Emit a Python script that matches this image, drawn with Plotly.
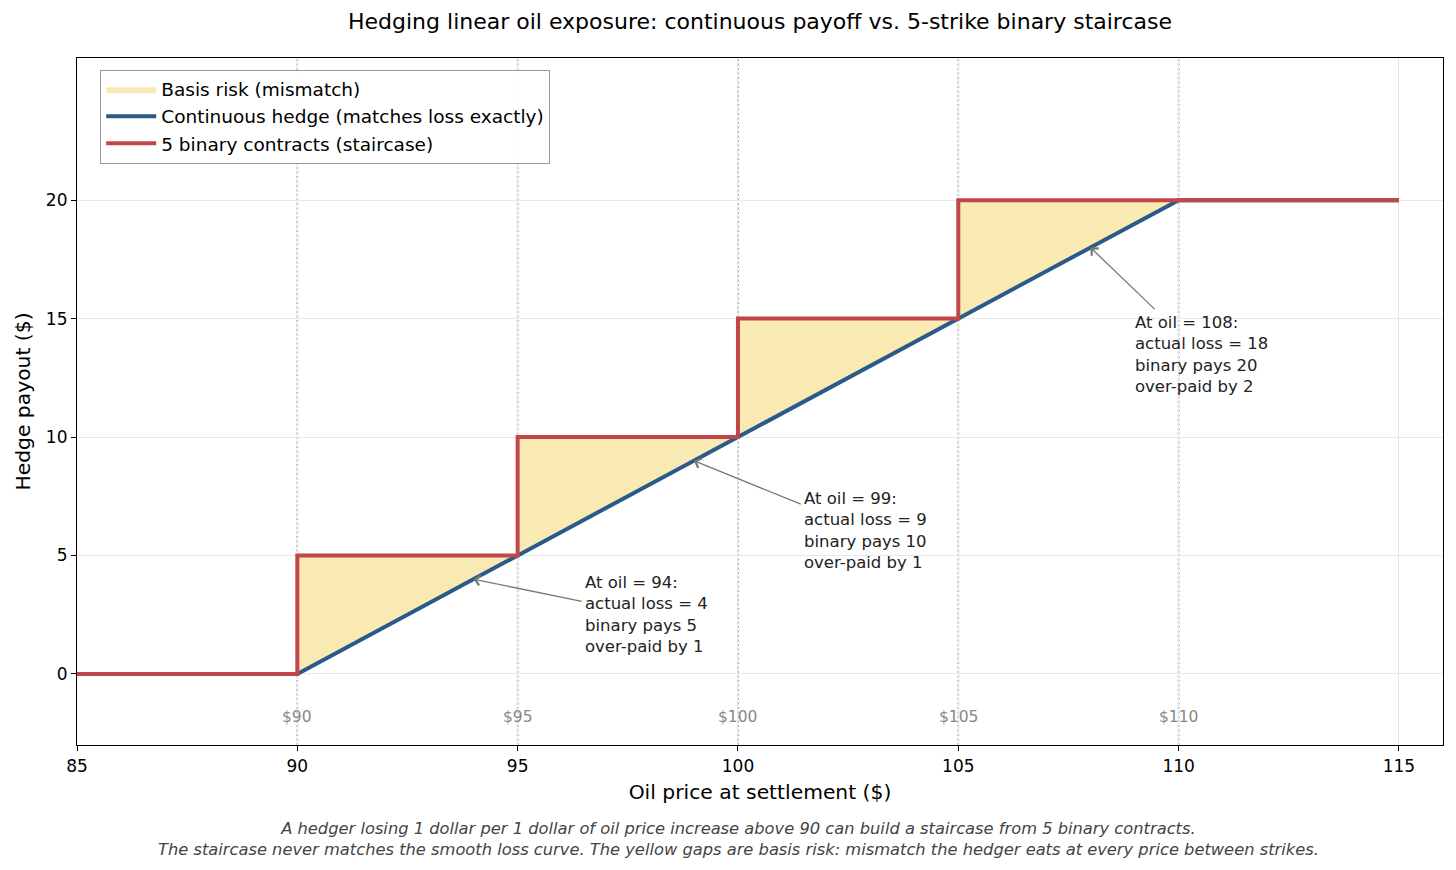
import plotly.graph_objects as go

# ---- data ----
strikes = [90, 95, 100, 105, 110]
strike_labels = ["$90", "$95", "$100", "$105", "$110"]
cont_x = [85, 90, 110, 115]
cont_y = [0, 0, 20, 20]
stair_x = [85, 90, 90, 95, 95, 100, 100, 105, 105, 115]
stair_y = [0, 0, 5, 5, 10, 10, 15, 15, 20, 20]
ann_price = [94, 99, 108]
ann_loss = [4, 9, 18]
ann_pay = [5, 10, 20]

# layout: text-box centres (data units) for the three call-outs
ann_box_x = [97.93, 102.90, 110.52]
ann_box_y = [2.5, 6.05, 13.5]

RED = "#c0464a"
BLUE = "#2a5a8a"
FILL = "rgba(246,222,140,0.65)"
FONT = "DejaVu Sans"

fig = go.Figure()

fig.add_trace(go.Scatter(x=cont_x, y=cont_y, mode="lines", line=dict(width=0),
                         showlegend=False, hoverinfo="skip"))
fig.add_trace(go.Scatter(x=stair_x, y=stair_y, mode="lines", line=dict(width=0),
                         fill="tonexty", fillcolor=FILL,
                         name="Basis risk (mismatch)"))
fig.add_trace(go.Scatter(x=cont_x, y=cont_y, mode="lines",
                         line=dict(color=BLUE, width=4),
                         name="Continuous hedge (matches loss exactly)"))
fig.add_trace(go.Scatter(x=stair_x, y=stair_y, mode="lines",
                         line=dict(color=RED, width=4),
                         name="5 binary contracts (staircase)"))

shapes = []
annotations = []
for s, lab in zip(strikes, strike_labels):
    shapes.append(dict(type="line", xref="x", yref="paper", x0=s, x1=s, y0=0, y1=1,
                       line=dict(color="#a0a0a0", width=1.8, dash="2px,2.5px"), layer="between"))
    annotations.append(dict(x=s, y=-1.8, xref="x", yref="y", text=lab, showarrow=False,
                            font=dict(family=FONT, size=15.5, color="#888888")))

for px, loss, pay, bx, by in zip(ann_price, ann_loss, ann_pay, ann_box_x, ann_box_y):
    txt = (f"At oil = {px}:<br>actual loss = {loss}<br>binary pays {pay}"
           f"<br>over-paid by {pay - loss}")
    annotations.append(dict(x=px, y=loss, xref="x", yref="y", ax=bx, ay=by,
                            axref="x", ayref="y", text=txt, showarrow=True,
                            arrowhead=4, arrowsize=1.5, arrowwidth=1.3,
                            arrowcolor="#777777", borderpad=3,
                            xanchor="center", yanchor="middle", align="left",
                            font=dict(family=FONT, size=16.5, color="#222222")))

annotations.append(dict(
    xref="paper", yref="paper", x=(738 - 77) / 1366, y=-0.105, xanchor="center", yanchor="top",
    showarrow=False, align="center",
    text=("<i>A hedger losing 1 dollar per 1 dollar of oil price increase above 90 can build a staircase from 5 binary contracts.</i><br>"
          "<i>The staircase never matches the smooth loss curve. The yellow gaps are basis risk: mismatch the hedger eats at every price between strikes.</i>"),
    font=dict(family=FONT, size=16.3, color="#444444")))

fig.update_layout(
    width=1456, height=870,
    margin=dict(l=77, r=13, t=58, b=125),
    paper_bgcolor="white", plot_bgcolor="white",
    font=dict(family=FONT, size=17, color="black"),
    title=dict(text="Hedging linear oil exposure: continuous payoff vs. 5-strike binary staircase",
               x=(77 + 1443) / 2 / 1456, xanchor="center", y=0.975, yanchor="middle",
               font=dict(family=FONT, size=22, color="black")),
    showlegend=True,
    legend=dict(x=0.017, y=0.983, xanchor="left", yanchor="top", traceorder="normal",
                itemwidth=50,
                bgcolor="rgba(255,255,255,0.9)", bordercolor="#999999", borderwidth=1,
                font=dict(family=FONT, size=18.5), tracegroupgap=0),
    shapes=shapes, annotations=annotations,
)
fig.update_xaxes(range=[85, 116], tickvals=[85, 90, 95, 100, 105, 110, 115],
                 showline=True, linecolor="black", linewidth=1.2, mirror=True,
                 ticks="outside", ticklen=5, tickcolor="black",
                 showgrid=True, gridcolor="#e8e8e8", zeroline=False,
                 title=dict(text="Oil price at settlement ($)", font=dict(size=20.3), standoff=10),
                 tickfont=dict(size=17))
fig.update_yaxes(range=[-3, 26], tickvals=[0, 5, 10, 15, 20],
                 showline=True, linecolor="black", linewidth=1.2, mirror=True,
                 ticks="outside", ticklen=5, tickcolor="black",
                 showgrid=True, gridcolor="#e8e8e8", zeroline=False,
                 title=dict(text="Hedge payout ($)", font=dict(size=20.3), standoff=9),
                 tickfont=dict(size=17))

fig.write_html("out.html")
